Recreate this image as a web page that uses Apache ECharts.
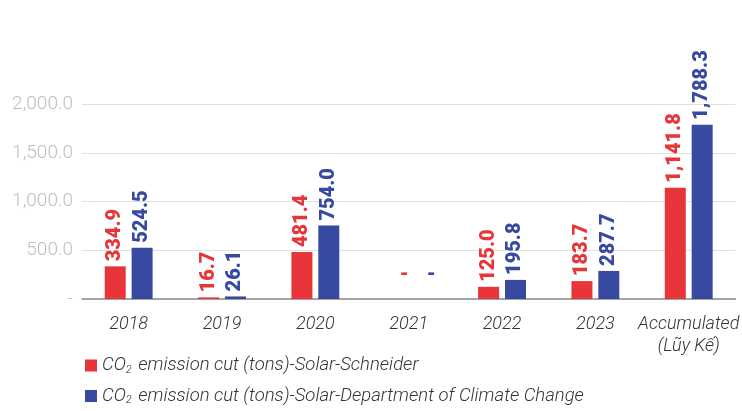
<!DOCTYPE html>
<html>
<head>
<meta charset="utf-8">
<script src="https://cdn.jsdelivr.net/npm/echarts@6/dist/echarts.min.js"></script>
<style>
html,body{margin:0;padding:0;background:#fff;}
#chart{width:742px;height:411px;}
</style>
</head>
<body>
<div id="chart"></div>
<script>
const categories = ['2018', '2019', '2020', '2021', '2022', '2023', 'Accumulated\n(Lũy Kế)'];
const schneider = [334.9, 16.7, 481.4, 0, 125.0, 183.7, 1141.8];
const dcc = [524.5, 26.1, 754.0, 0, 195.8, 287.7, 1788.3];
const seriesNames = ['CO2 emission cut (tons)-Solar-Schneider', 'CO2 emission cut (tons)-Solar-Department of Climate Change'];
const yTicks = { min: 0, max: 2000, interval: 500 };

const RED = '#E8353A';
const BLUE = '#3749A1';

function fmt(v) {
  if (v === 0) return '-';
  return v.toLocaleString('en-US', { minimumFractionDigits: 1, maximumFractionDigits: 1 });
}

function makeData(arr) {
  return arr.map(v => {
    if (v === 0) {
      return { value: v, label: { rotate: 0, align: 'center', verticalAlign: 'bottom', distance: 14, offset: [9, 0] } };
    }
    return v;
  });
}

function labelCfg(color) {
  return {
    show: true,
    position: 'top',
    rotate: 90,
    align: 'left',
    verticalAlign: 'middle',
    distance: 5,
    color: color,
    fontFamily: 'Roboto',
    fontWeight: 900,
    fontSize: 20,
    formatter: p => fmt(p.value)
  };
}

const chart = echarts.init(document.getElementById('chart'), null, { renderer: 'canvas' });
chart.setOption({
  animation: false,
  grid: { left: 82, right: 2, top: 104, bottom: 112, containLabel: false },
  legend: {
    orient: 'vertical',
    left: 80,
    top: 351,
    itemGap: 11,
    itemWidth: 12,
    itemHeight: 12,
    icon: 'rect',
    data: seriesNames,
    formatter: name => {
      const rest = name.slice(3);
      return '{a|CO}{s|2}{a|' + rest + '}';
    },
    textStyle: {
      rich: {
        a: { fontFamily: 'Roboto', fontStyle: 'italic', fontSize: 18.5, color: '#333', fontWeight: 300 },
        s: { fontFamily: 'Roboto', fontStyle: 'italic', fontSize: 11, color: '#333', verticalAlign: 'bottom', padding: [9, 2, 0, 0], fontWeight: 300 }
      }
    }
  },
  xAxis: {
    type: 'category',
    data: categories,
    axisLine: { lineStyle: { color: '#8a8a8a', width: 1.5 } },
    axisTick: { show: false },
    axisLabel: {
      interval: 0,
      margin: 14,
      fontFamily: 'Roboto',
      fontStyle: 'italic',
      fontWeight: 300,
      fontSize: 18,
      lineHeight: 22,
      color: '#333'
    }
  },
  yAxis: {
    type: 'value',
    min: yTicks.min,
    max: yTicks.max,
    interval: yTicks.interval,
    axisLine: { show: false },
    axisTick: { show: false },
    splitLine: { lineStyle: { color: '#e0e0e0', width: 1.2 } },
    axisLabel: {
      margin: 9,
      fontFamily: 'Roboto',
      fontWeight: 300,
      fontSize: 19,
      color: '#bdbdbd',
      formatter: v => fmt(v)
    }
  },
  series: [
    {
      name: seriesNames[0],
      type: 'bar',
      data: makeData(schneider),
      barWidth: 21,
      barGap: '28%',
      itemStyle: { color: RED },
      label: labelCfg(RED)
    },
    {
      name: seriesNames[1],
      type: 'bar',
      data: makeData(dcc),
      barWidth: 21,
      barGap: '28%',
      itemStyle: { color: BLUE },
      label: labelCfg(BLUE)
    }
  ]
});
</script>
</body>
</html>
